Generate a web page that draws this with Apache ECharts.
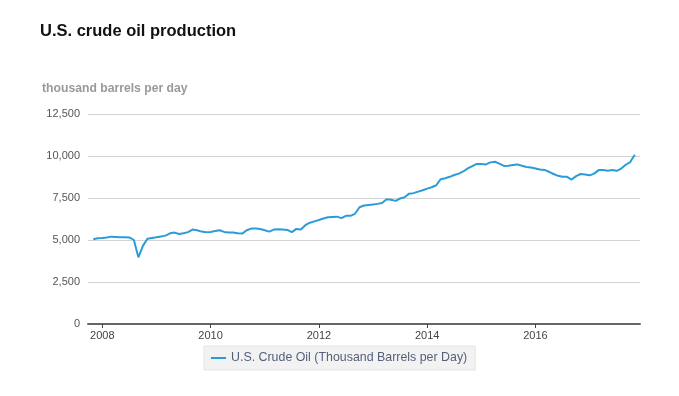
<!DOCTYPE html>
<html>
<head>
<meta charset="utf-8">
<script src="https://cdn.jsdelivr.net/npm/echarts@6/dist/echarts.min.js"></script>
<style>
  html, body { margin: 0; padding: 0; background: #fff; }
  #chart { width: 679px; height: 396px; }
</style>
</head>
<body>
<div id="chart"></div>
<script>
// Monthly U.S. crude oil production, thousand barrels per day
const prod2007 = [5050, 5100]; // Nov, Dec
const prod2008 = [5120, 5150, 5200, 5180, 5160, 5160, 5150, 5000, 3970, 4650, 5080, 5120];
const prod2009 = [5160, 5210, 5260, 5400, 5440, 5360, 5400, 5470, 5620, 5580, 5500, 5460];
const prod2010 = [5480, 5530, 5580, 5480, 5450, 5450, 5400, 5380, 5580, 5680, 5680, 5650];
const prod2011 = [5580, 5500, 5620, 5640, 5630, 5600, 5470, 5660, 5630, 5880, 6030, 6110];
const prod2012 = [6190, 6280, 6350, 6370, 6390, 6300, 6440, 6440, 6560, 6950, 7050, 7080];
const prod2013 = [7110, 7150, 7200, 7420, 7390, 7330, 7470, 7540, 7760, 7790, 7880, 7960];
const prod2014 = [8060, 8140, 8260, 8620, 8680, 8760, 8870, 8950, 9080, 9260, 9400, 9530];
const prod2015 = [9520, 9500, 9620, 9660, 9550, 9410, 9420, 9460, 9500, 9420, 9350, 9320];
const prod2016 = [9260, 9200, 9170, 9060, 8930, 8820, 8760, 8760, 8600, 8800, 8930, 8900];
const prod2017 = [8850, 8950, 9160, 9160, 9120, 9160, 9120, 9250, 9480, 9640, 10070]; // Jan-Nov

const tickYears = [2008, 2010, 2012, 2014, 2016];
const yTicks = [0, 2500, 5000, 7500, 10000, 12500];
const seriesName = 'U.S. Crude Oil (Thousand Barrels per Day)';

// x value = year as a decimal (first day of each month)
function monthSeries(year, startMonth, values) {
  return values.map((v, i) => [year + (startMonth - 1 + i) / 12, v]);
}
const data = [].concat(
  monthSeries(2007, 11, prod2007),
  monthSeries(2008, 1, prod2008),
  monthSeries(2009, 1, prod2009),
  monthSeries(2010, 1, prod2010),
  monthSeries(2011, 1, prod2011),
  monthSeries(2012, 1, prod2012),
  monthSeries(2013, 1, prod2013),
  monthSeries(2014, 1, prod2014),
  monthSeries(2015, 1, prod2015),
  monthSeries(2016, 1, prod2016),
  monthSeries(2017, 1, prod2017)
);

const FONT = '"Liberation Sans", Arial, Helvetica, sans-serif';
const chart = echarts.init(document.getElementById('chart'), null, { renderer: 'canvas' });
chart.setOption({
  animation: false,
  textStyle: { fontFamily: FONT },
  title: [
    {
      text: 'U.S. crude oil production',
      left: 40, top: 23, padding: 0,
      textStyle: { fontFamily: FONT, fontSize: 16.5, fontWeight: 'bold', color: '#111' }
    },
    {
      text: 'thousand barrels per day',
      left: 42, top: 83, padding: 0,
      textStyle: { fontFamily: FONT, fontSize: 12.2, fontWeight: 'bold', color: '#999' }
    }
  ],
  legend: {
    data: [{ name: seriesName, icon: 'rect' }],
    left: 204, top: 346,
    itemWidth: 15, itemHeight: 2, itemGap: 6,
    padding: [6, 8, 6, 7],
    backgroundColor: '#f2f2f2',
    borderColor: '#e4e4e4', borderWidth: 1,
    textStyle: { fontFamily: FONT, fontSize: 12.4, color: '#55607a' }
  },
  grid: { left: 88, right: 39, top: 114, bottom: 72, containLabel: false },
  xAxis: {
    type: 'value',
    min: 2007.736,
    max: 2017.93,
    axisLine: { show: true, onZero: false, lineStyle: { color: '#666', width: 2 } },
    axisTick: { show: true, customValues: tickYears, length: 4, lineStyle: { color: '#444', width: 1 } },
    axisLabel: {
      customValues: tickYears,
      formatter: v => String(Math.round(v)),
      color: '#444', fontSize: 11, fontFamily: FONT, margin: 6
    },
    splitLine: { show: false }
  },
  yAxis: {
    type: 'value',
    min: yTicks[0], max: yTicks[yTicks.length - 1], interval: 2500,
    axisLine: { show: false },
    axisTick: { show: false },
    axisLabel: {
      formatter: v => v.toLocaleString('en-US'),
      color: '#555', fontSize: 11, fontFamily: FONT, margin: 8
    },
    splitLine: { show: true, lineStyle: { color: '#d3d3d3', width: 1 } }
  },
  series: [{
    name: seriesName,
    type: 'line',
    data: data,
    showSymbol: false,
    symbol: 'none',
    lineStyle: { color: '#2b9cd8', width: 2 },
    itemStyle: { color: '#2b9cd8' }
  }]
});
</script>
</body>
</html>
